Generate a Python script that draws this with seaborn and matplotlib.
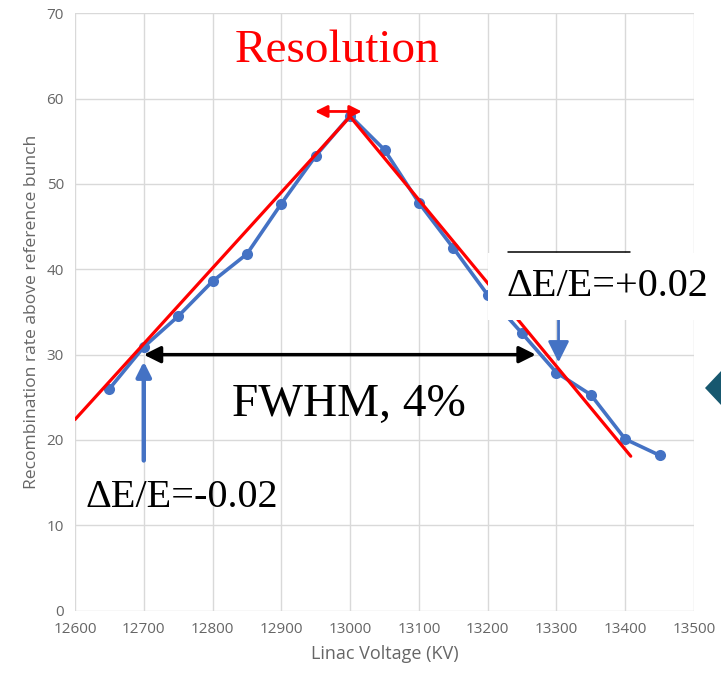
import numpy as np
import pandas as pd
import matplotlib
matplotlib.use("Agg")
import matplotlib.pyplot as plt
from matplotlib.patches import Rectangle, Polygon
import seaborn as sns

# measured points
voltage = [12650, 12700, 12750, 12800, 12850, 12900, 12950, 13000, 13050,
           13100, 13150, 13200, 13250, 13300, 13350, 13400, 13450]
recomb_rate = [26.0, 30.9, 34.5, 38.6, 41.8, 47.7, 53.3, 58.0, 54.0,
               47.8, 42.5, 37.0, 32.5, 27.9, 25.3, 20.1, 18.2]

# hand-drawn linear fits (red)
fit_x = [12600, 13000, 13408]
fit_y = [22.4, 57.9, 18.1]

# annotation anchors
fwhm_x = [12700, 13270]
fwhm_y = 30.0
res_x = [12949, 13017]
res_y = 58.5

x_ticks = list(range(12600, 13501, 100))
y_ticks = list(range(0, 71, 10))

sns.set_style("whitegrid")
plt.rcParams['font.family'] = ['Open Sans', 'DejaVu Sans']

df = pd.DataFrame({'voltage': voltage, 'rate': recomb_rate})

fig = plt.figure(figsize=(7.21, 6.77), dpi=100)
ax = fig.add_axes([0.104, 0.098, 0.8586, 0.8823])

blue = '#4472C4'
sns.lineplot(data=df, x='voltage', y='rate', ax=ax, color=blue, lw=2.6,
             marker='o', markersize=8, markeredgewidth=0, zorder=3)
ax.plot(fit_x, fit_y, color='red', lw=2.3, zorder=4)

ax.set_xlim(12600, 13500)
ax.set_ylim(0, 70)
ax.set_xticks(x_ticks)
ax.set_yticks(y_ticks)
ax.grid(True, color='#d9d9d9', lw=1)
for s in ax.spines.values():
    s.set_visible(False)
ax.tick_params(axis='both', colors='#808080', labelsize=11, length=0, pad=8)
for lab in ax.get_xticklabels() + ax.get_yticklabels():
    lab.set_color('#666666')
ax.set_xlabel('Linac Voltage (KV)', color='#666666', fontsize=13, labelpad=6)
ax.set_ylabel('Recombination rate above reference bunch', color='#666666',
              fontsize=12.6, labelpad=5)

serif = ['Liberation Serif', 'DejaVu Serif']

# FWHM double arrow
ax.annotate('', xy=(fwhm_x[0], fwhm_y), xytext=(fwhm_x[1], fwhm_y),
            arrowprops=dict(arrowstyle='<|-|>', color='black', lw=2.5,
                            mutation_scale=25, shrinkA=0, shrinkB=0), zorder=5)
ax.text(12999, 24.1, 'FWHM, 4%', family=serif, fontsize=34, ha='center',
        va='center', color='black')

# resolution arrow
ax.annotate('', xy=(res_x[0], res_y), xytext=(res_x[1], res_y),
            arrowprops=dict(arrowstyle='<|-|>', color='red', lw=2,
                            mutation_scale=18, shrinkA=0, shrinkB=0), zorder=5)
ax.text(12981, 65.6, 'Resolution', family=serif, fontsize=34, ha='center',
        va='center', color='red')

# lower marker arrow
ax.annotate('', xy=(12700, 29.2), xytext=(12700, 17.6),
            arrowprops=dict(arrowstyle='-|>', color=blue, lw=3.2,
                            mutation_scale=22, shrinkA=0, shrinkB=0), zorder=5)
ax.text(12755, 13.3, 'ΔE/E=-0.02', family=serif, fontsize=29, ha='center',
        va='center', color='black')

# upper marker arrow
ax.annotate('', xy=(13303, 29.1), xytext=(13303, 37),
            arrowprops=dict(arrowstyle='-|>', color=blue, lw=2,
                            mutation_scale=32, shrinkA=0, shrinkB=0), zorder=5)

# white label box on the right
fig.add_artist(Rectangle((488 / 721, 1 - 320 / 677), 240 / 721, 67 / 677,
                         transform=fig.transFigure, facecolor='white',
                         edgecolor='none', zorder=6))
fig.add_artist(plt.Line2D([508 / 721, 630 / 721], [1 - 252 / 677, 1 - 252 / 677],
                          transform=fig.transFigure, color='black', lw=1.1,
                          zorder=7))
fig.text(607 / 721, 1 - 287 / 677, 'ΔE/E=+0.02', family=serif, fontsize=29,
         ha='center', va='center', color='black', zorder=8)

# teal shape cut at the edge
fig.add_artist(Polygon([(705 / 721, 1 - 388 / 677), (722 / 721, 1 - 370 / 677),
                        (722 / 721, 1 - 406 / 677)], closed=True,
                       transform=fig.transFigure, facecolor='#17586f',
                       edgecolor='none', zorder=6))

fig.savefig('out.png', dpi=100)
